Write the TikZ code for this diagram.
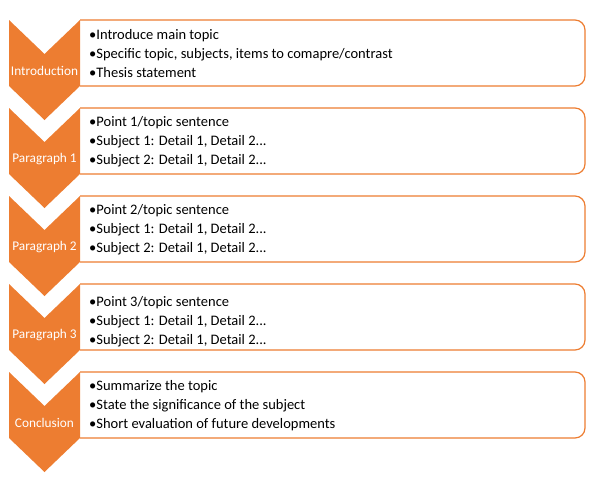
\documentclass[tikz,border=0pt]{standalone}
\usepackage{fontspec}
\setmainfont{Carlito}
\usetikzlibrary{positioning,calc}
\definecolor{EssayOrange}{RGB}{237,125,49}

\begin{document}
\begin{tikzpicture}[x=1pt, y=-1pt, font=\fontsize{14.5}{19}\selectfont,
    every node/.style={align=left},
    steplabel/.style={text=white, align=center, font=\fontsize{13.3}{15}\selectfont},
    bullets/.style={anchor=west, inner sep=0pt}]
        \useasboundingbox (0,0) rectangle (602,483);

        % Chevrons and boxes (top to bottom)
        \foreach \i/\lbl in {0/Introduction,1/Paragraph 1,2/Paragraph 2,3/Paragraph 3,4/Conclusion} {
          \pgfmathsetmacro{\t}{20+88*\i}
          \draw[EssayOrange, line width=1.2pt, rounded corners=10pt]
            (80,\t) -- (585,\t) -- (585,\t+66) -- (80,\t+66);
          \fill[EssayOrange] (9,\t) -- (44.5,\t+34) -- (80,\t) -- (80,\t+66)
            -- (44.5,\t+100) -- (9,\t+66) -- cycle;
          \node[steplabel] (lab\i) at (44.5,\t+51) {\lbl};
        }

        % Bullet texts
        \node[bullets] (txt0) at (89,54) {•Introduce main topic\\•Specific topic, subjects, items to comapre/contrast\\•Thesis statement};
        \node[bullets] (txt1) at (89,142) {•Point 1/topic sentence\\•Subject 1: Detail 1, Detail 2...\\•Subject 2: Detail 1, Detail 2...};
        \node[bullets] (txt2) at (89,230) {•Point 2/topic sentence\\•Subject 1: Detail 1, Detail 2...\\•Subject 2: Detail 1, Detail 2...};
        \node[bullets] (txt3) at (89,322) {•Point 3/topic sentence\\•Subject 1: Detail 1, Detail 2...\\•Subject 2: Detail 1, Detail 2...};
        \node[bullets] (txt4) at (89,406) {•Summarize the topic\\•State the significance of the subject\\•Short evaluation of future developments};
      \end{tikzpicture}
\end{document}
